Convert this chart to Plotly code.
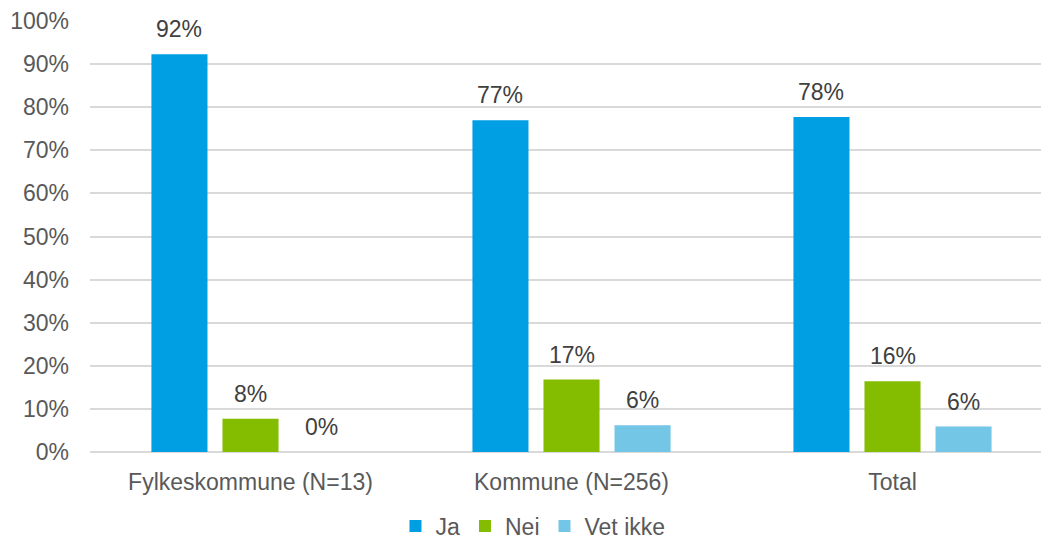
import plotly.graph_objects as go

categories = ["Fylkeskommune (N=13)", "Kommune (N=256)", "Total"]
ja = [92.3, 77.0, 77.7]
nei = [7.7, 16.8, 16.4]
vet_ikke = [0.0, 6.2, 5.9]
series_names = ["Ja", "Nei", "Vet ikke"]
colors = ["#009FE3", "#84BD00", "#73C6E6"]
tick_vals = list(range(0, 101, 10))
tick_text = [f"{v}%" for v in tick_vals]

BARGAP = 0.336
FONT = "Liberation Sans, Arial, sans-serif"
# the original plot area runs past the right edge of the picture
X_RANGE = [-0.5, 2.4626]

fig = go.Figure()
series = [ja, nei, vet_ikke]
n = len(series)
step = (1 - BARGAP) / n
for j, (name, vals, col) in enumerate(zip(series_names, series, colors)):
    fig.add_trace(go.Bar(
        name=name, x=list(range(len(categories))), y=vals, marker_color=col,
        marker_line_width=0,
    ))
    for i, v in enumerate(vals):
        fig.add_annotation(
            x=i + (j - (n - 1) / 2) * step, y=v, xref="x", yref="y",
            text=f"{round(v)}%", showarrow=False, yanchor="bottom", yshift=10,
            font=dict(family=FONT, size=23, color="#404040"),
        )

fig.update_layout(
    width=1041, height=539,
    margin=dict(l=90, r=0, t=21, b=87),
    paper_bgcolor="white", plot_bgcolor="white",
    barmode="group", bargap=BARGAP, bargroupgap=0.211,
    font=dict(family=FONT, color="#595959", size=23),
    legend=dict(orientation="h", x=0.4658, xanchor="center", yref="container", y=0.024,
                yanchor="middle", font=dict(size=23, color="#595959"), itemwidth=30,
                traceorder="normal"),
)
fig.update_yaxes(range=[0, 100], tickvals=tick_vals, ticktext=tick_text,
                 showgrid=True, gridcolor="#D9D9D9", gridwidth=1.5, zeroline=True,
                 zerolinecolor="#D9D9D9", zerolinewidth=1.5, ticks="", ticklabelstandoff=20,
                 tickfont=dict(size=23, color="#595959"), automargin=False)
fig.update_xaxes(tickvals=list(range(len(categories))), ticktext=categories,
                 range=X_RANGE,
                 showline=False, ticks="", ticklabelstandoff=14, automargin=False,
                 tickfont=dict(size=23, color="#595959"))

fig.write_html("out.html", config={"displayModeBar": False},
               post_script="document.body.style.margin='0';document.body.style.overflow='hidden';")
